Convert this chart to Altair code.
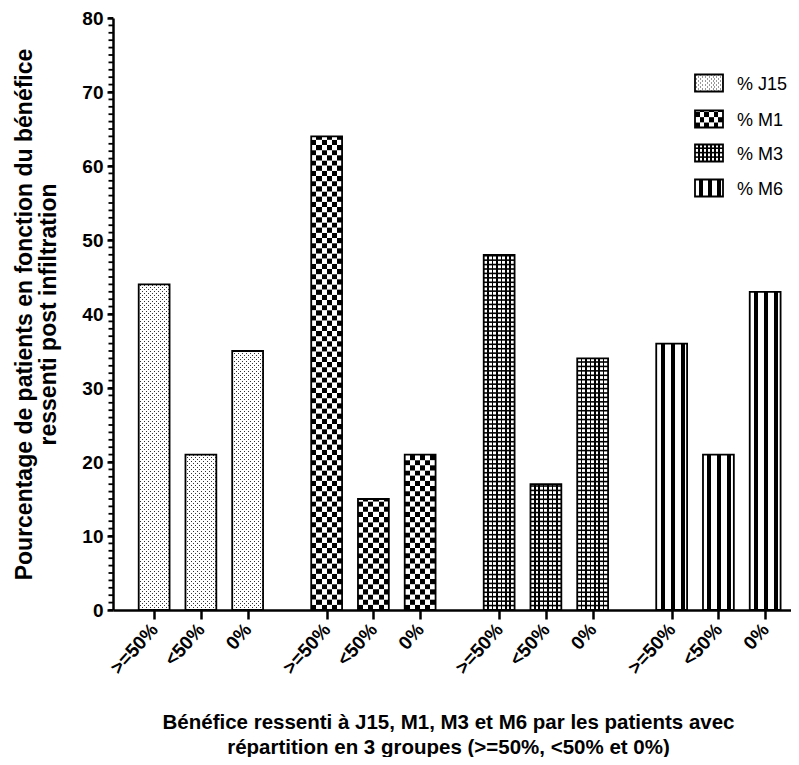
import altair as alt
import pandas as pd

# ---------------- data ----------------
groups = ["J15", "M1", "M3", "M6"]
categories = [">=50%", "<50%", "0%"]
val_J15 = [44, 21, 35]
val_M1 = [64, 15, 21]
val_M3 = [48, 17, 34]
val_M6 = [36, 21, 43]
values = {"J15": val_J15, "M1": val_M1, "M3": val_M3, "M6": val_M6}
legend_labels = ["% J15", "% M1", "% M3", "% M6"]
y_ticks = [0, 10, 20, 30, 40, 50, 60, 70, 80]

y_title = ["Pourcentage de patients en fonction du bénéfice",
           "ressenti post infiltration"]
x_title = ["Bénéfice ressenti à J15, M1, M3 et M6 par les patients avec",
           "répartition en 3 groupes (>=50%, <50% et 0%)"]

# ---------------- layout ----------------
W, H = 678, 592
SLOT = 46.75            # px per x unit
PX_X = 1 / SLOT
PX_Y = 80 / H           # data units per px (y)
X_MAX = W * PX_X
AX_X, AX_Y = 113, 610   # absolute px of plot origin


def ydat(p):
    return (AX_Y - p) * PX_Y


def xdat(p):
    return (p - AX_X) * PX_X


rows, ticks, tick_labels = [], [], []
for g, grp in enumerate(groups):
    for i, cat in enumerate(categories):
        c = round(0.88 + 3.69 * g + i * 1.0, 2)
        rows.append(dict(group=grp, cat=cat, x0=c - 0.33, x1=c + 0.33,
                         y0=0.0, y1=float(values[grp][i])))
        ticks.append(c)
        tick_labels.append(cat)

leg_cy = [83, 119, 153, 188]
leg_ty = [85, 121, 155, 190]
for k, grp in enumerate(groups):
    rows.append(dict(group=grp, cat="legend", x0=xdat(695), x1=xdat(723),
                     y0=ydat(leg_cy[k] + 8.5), y1=ydat(leg_cy[k] - 8.5)))
rects = pd.DataFrame(rows)

leg_text = pd.DataFrame({"label": legend_labels,
                         "tx": [xdat(737)] * 4,
                         "ty": [ydat(v) for v in leg_ty]})

# ---------------- gradients (patterns) ----------------
def stripes(segments, w, dark="black", light="white"):
    stops = [{"offset": 0, "color": light}]
    for a, b in segments:
        a = max(0.0, min(1.0, a / w))
        b = max(0.0, min(1.0, b / w))
        stops += [{"offset": a, "color": light}, {"offset": a, "color": dark},
                  {"offset": b, "color": dark}, {"offset": b, "color": light}]
    stops.append({"offset": 1, "color": light})
    return {"gradient": "linear", "x1": 0, "y1": 0, "x2": 1, "y2": 0,
            "stops": stops}


BW = 31.0
dots_a = stripes([(1.5 + 4 * k, 2.5 + 4 * k) for k in range(8)], BW, dark="#333333")
dots_b = stripes([(3.5 + 4 * k, 4.5 + 4 * k) for k in range(7)], BW, dark="#333333")
cell = BW / 6
check_a = stripes([(2 * k * cell, (2 * k + 1) * cell) for k in range(3)], BW)
check_b = stripes([((2 * k + 1) * cell, (2 * k + 2) * cell) for k in range(3)], BW)
gstep = BW / 7
grid_v = stripes([(k * gstep - 0.8, k * gstep + 0.8) for k in range(1, 7)], BW)
bars_v = stripes([(4.5, 8.5), (14.5, 18.5), (24.5, 28.5)], BW)

# ---------------- scales / axes ----------------
xs = alt.Scale(domain=[0, X_MAX], nice=False, zero=False)
ys = alt.Scale(domain=[0, 80], nice=False)

tick_keys = [int(round(t * 100)) for t in ticks]
label_expr = ("[" + ",".join("'" + l + "'" for l in tick_labels) + "][indexof(["
              + ",".join(str(k) for k in tick_keys) + "], round(datum.value*100))]")

xaxis = alt.Axis(values=ticks, labelExpr=label_expr, labelAngle=-48,
                 labelAlign="right", labelBaseline="middle", labelFontSize=19,
                 labelFontWeight="bold", labelColor="black", labelPadding=7,
                 labelOverlap=False, labelFlush=False, labelBound=False,
                 tickSize=9, tickWidth=2.5, tickColor="black",
                 domainColor="black", domainWidth=2.5, grid=False,
                 title=x_title, titleFontSize=20.5, titleFontWeight="bold",
                 titleColor="black", titleX=335, titleY=102,
                 titleAnchor="middle", titleAlign="center", titleBaseline="top",
                 titleLineHeight=25)
yaxis = alt.Axis(values=y_ticks, labelFontSize=19, labelFontWeight="bold",
                 labelColor="black", labelPadding=4, tickSize=6, tickWidth=2.5,
                 tickColor="black", domainColor="black", domainWidth=2.5,
                 grid=False, title=y_title, titleFontSize=23,
                 titleFontWeight="bold", titleColor="black", titlePadding=21,
                 titleLineHeight=24)


def X(f):
    return alt.X(f, type="quantitative", scale=xs, axis=xaxis)


def Y(f):
    return alt.Y(f, type="quantitative", scale=ys, axis=yaxis)


base = alt.Chart(rects)


def solid(grp, fill):
    return base.transform_filter(alt.datum.group == grp).mark_rect(
        fill=fill, strokeWidth=0).encode(x=X("x0"), x2="x1", y=Y("y0"), y2="y1")


def pattern_rows(grp, step, height, fills, clip_half=None):
    layers = []
    ch = base.transform_filter(alt.datum.group == grp).transform_calculate(
        seq=f"sequence(datum.y0, datum.y1, {step})"
    ).transform_flatten(["seq"]).transform_calculate(
        idx=f"round((datum.seq - datum.y0) / {step}) % 2"
    )
    if clip_half is None:
        ch = ch.transform_calculate(
            r0="datum.seq", r1=f"min(datum.seq + {height}, datum.y1)")
    else:
        ch = ch.transform_filter("datum.seq > datum.y0").transform_calculate(
            r0=f"datum.seq - {clip_half}",
            r1=f"min(datum.seq + {clip_half}, datum.y1)")
    for parity, fill in enumerate(fills):
        layers.append(ch.transform_filter(f"datum.idx == {parity}").mark_rect(
            fill=fill, strokeWidth=0).encode(x=X("x0"), x2="x1", y=Y("r0"), y2="r1"))
    return layers


dot_step = 2 * PX_Y
layers = []
layers.append(solid("M3", grid_v))
layers.append(solid("M6", bars_v))
layers += pattern_rows("J15", dot_step, 1.0 * PX_Y, [dots_a, dots_b])
layers += pattern_rows("M1", cell * PX_Y, cell * PX_Y, [check_a, check_b])
layers += pattern_rows("M3", gstep * PX_Y, 0, ["black", "black"], clip_half=0.8 * PX_Y)

borders = base.mark_rect(fill="transparent", stroke="black", strokeWidth=1.8).encode(
    x=X("x0"), x2="x1", y=Y("y0"), y2="y1")
layers.append(borders)

minor = alt.Chart(alt.sequence(0, 81, 1)).mark_rule(
    color="black", strokeWidth=1.8).encode(
    y=Y("data"), x=alt.value(-4.5), x2=alt.value(0))
layers.append(minor)

legend = alt.Chart(leg_text).mark_text(
    align="left", baseline="middle", fontSize=18, color="black").encode(
    x=X("tx"), y=Y("ty"), text="label:N")
layers.append(legend)

chart = alt.layer(*layers).properties(
    width=W, height=H,
    autosize=alt.AutoSizeParams(type="none"),
    padding={"left": 105, "top": 10, "right": 0, "bottom": 147},
).configure(font="Liberation Sans").configure_view(stroke=None)

chart.save("out.html", embed_options={"renderer": "svg", "actions": False})
